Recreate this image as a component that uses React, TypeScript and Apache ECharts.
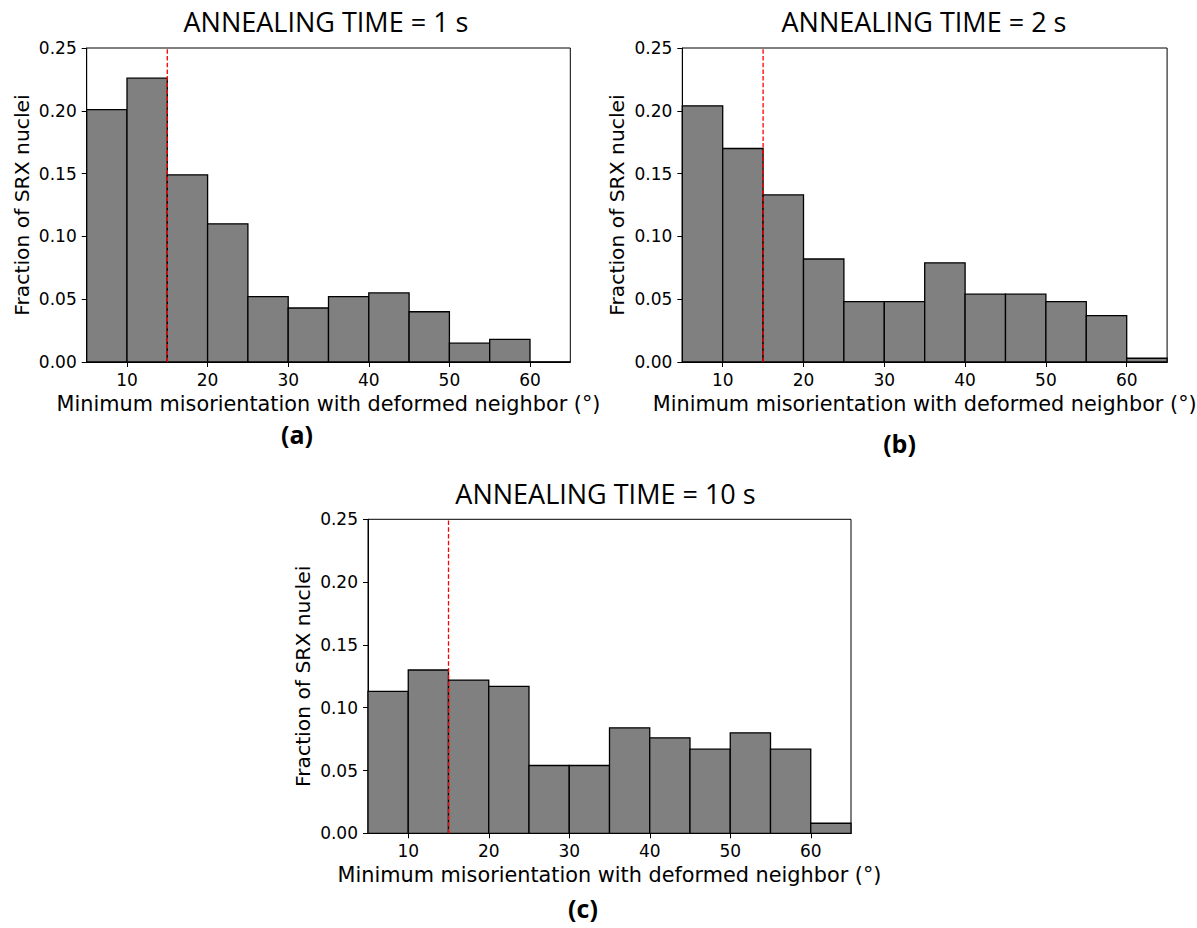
import React, { useEffect, useRef } from "react";
import * as echarts from "echarts";

// Bin edges (degrees) shared by the three histograms
const binEdges = [5, 10, 15, 20, 25, 30, 35, 40, 45, 50, 55, 60, 65];
const xTickValues = [10, 20, 30, 40, 50, 60];

// Fraction of SRX nuclei per bin
const fraction1s = [0.201, 0.226, 0.149, 0.110, 0.052, 0.043, 0.052, 0.055, 0.040, 0.015, 0.018, 0.0];
const fraction2s = [0.204, 0.170, 0.133, 0.082, 0.048, 0.048, 0.079, 0.054, 0.054, 0.048, 0.037, 0.003];
const fraction10s = [0.113, 0.130, 0.122, 0.117, 0.054, 0.054, 0.084, 0.076, 0.067, 0.080, 0.067, 0.008];

const titles = ["ANNEALING TIME = 1 s", "ANNEALING TIME = 2 s", "ANNEALING TIME = 10 s"];
const panelLabels = ["(a)", "(b)", "(c)"];
const thresholdAngle = 15;

const xAxisName = "Minimum misorientation with deformed neighbor (°)";
const yAxisName = "Fraction of SRX nuclei";

export default function App() {
  const ref = useRef<HTMLDivElement>(null);

  useEffect(() => {
    if (!ref.current) return;
    const chart = echarts.init(ref.current, null, { renderer: "svg" });

    const grids = [
      { left: 86.7, top: 48, width: 483.6, height: 314 },
      { left: 682.3, top: 48, width: 484.8, height: 314 },
      { left: 368, top: 519.3, width: 483, height: 314 },
    ];
    const titlePos = [
      [326, 21.7],
      [924, 21.7],
      [605.5, 493],
    ];
    const labelPos = [
      [297, 434],
      [899.5, 443],
      [583, 908],
    ];
    const datasets = [fraction1s, fraction2s, fraction10s];

    const tickFont = { fontFamily: "DejaVu Sans", fontSize: 17, color: "#000" };

    const option: any = {
      animation: false,
      backgroundColor: "#fff",
      grid: grids.map((g) => ({
        ...g,
        show: true,
        borderColor: "#000",
        borderWidth: 1,
        backgroundColor: "transparent",
        outerBoundsMode: "none",
        containLabel: false,
      })),
      xAxis: grids.map((_, i) => ({
        type: "value",
        gridIndex: i,
        min: binEdges[0],
        max: binEdges[binEdges.length - 1],
        name: xAxisName,
        nameLocation: "middle",
        nameGap: 31,
        nameTextStyle: { fontFamily: "DejaVu Sans", fontSize: 20.8, color: "#000" },
        axisLine: { show: true, lineStyle: { color: "#000", width: 1 } },
        axisTick: { show: true, length: 5, lineStyle: { color: "#000", width: 1 }, customValues: xTickValues },
        axisLabel: { ...tickFont, margin: 9, customValues: xTickValues },
        splitLine: { show: false },
      })),
      yAxis: grids.map((_, i) => ({
        type: "value",
        gridIndex: i,
        min: 0,
        max: 0.25,
        interval: 0.05,
        name: yAxisName,
        nameLocation: "middle",
        nameRotate: 90,
        nameGap: 55,
        nameTextStyle: { fontFamily: "DejaVu Sans", fontSize: 20.3, color: "#000" },
        axisLine: { show: true, lineStyle: { color: "#000", width: 1 } },
        axisTick: { show: true, length: 5, lineStyle: { color: "#000", width: 1 } },
        axisLabel: { ...tickFont, margin: 10, formatter: (v: number) => v.toFixed(2) },
        splitLine: { show: false },
      })),
      series: [
        ...datasets.map((vals, i) => ({
          type: "custom",
          xAxisIndex: i,
          yAxisIndex: i,
          z: 2,
          encode: { x: [0, 1], y: 2 },
          data: vals.map((v, k) => [binEdges[k], binEdges[k + 1], v]),
          renderItem: (params: any, api: any) => {
            const x0 = api.value(0);
            const x1 = api.value(1);
            const y = api.value(2);
            const p0 = api.coord([x0, y]);
            const p1 = api.coord([x1, 0]);
            return {
              type: "rect",
              shape: { x: p0[0], y: p0[1], width: p1[0] - p0[0], height: p1[1] - p0[1] },
              style: { fill: "#808080", stroke: "#000", lineWidth: 1.3 },
            };
          },
        })),
        ...datasets.map((_, i) => ({
          type: "line",
          xAxisIndex: i,
          yAxisIndex: i,
          z: 5,
          symbol: "none",
          silent: true,
          data: [
            [thresholdAngle, 0],
            [thresholdAngle, 0.25],
          ],
          lineStyle: { color: "#ff0000", width: 1.3, type: [4.5, 2.2] },
        })),
      ],
      graphic: [
        ...titles.map((t, i) => ({
          type: "text",
          x: titlePos[i][0],
          y: titlePos[i][1],
          style: {
            text: t,
            fontFamily: "Open Sans",
            fontSize: 27,
            fill: "#000",
            align: "center",
            verticalAlign: "middle",
          },
        })),
        ...panelLabels.map((t, i) => ({
          type: "text",
          x: labelPos[i][0],
          y: labelPos[i][1],
          style: {
            text: t,
            fontFamily: "Open Sans",
            fontWeight: "bold",
            fontSize: 25,
            fill: "#000",
            align: "center",
            verticalAlign: "middle",
          },
        })),
      ],
    };

    chart.setOption(option);
    return () => chart.dispose();
  }, []);

  return (
    <div
      ref={ref}
      style={{ position: "absolute", left: 0, top: 0, width: 1197, height: 928, background: "#fff" }}
    />
  );
}
